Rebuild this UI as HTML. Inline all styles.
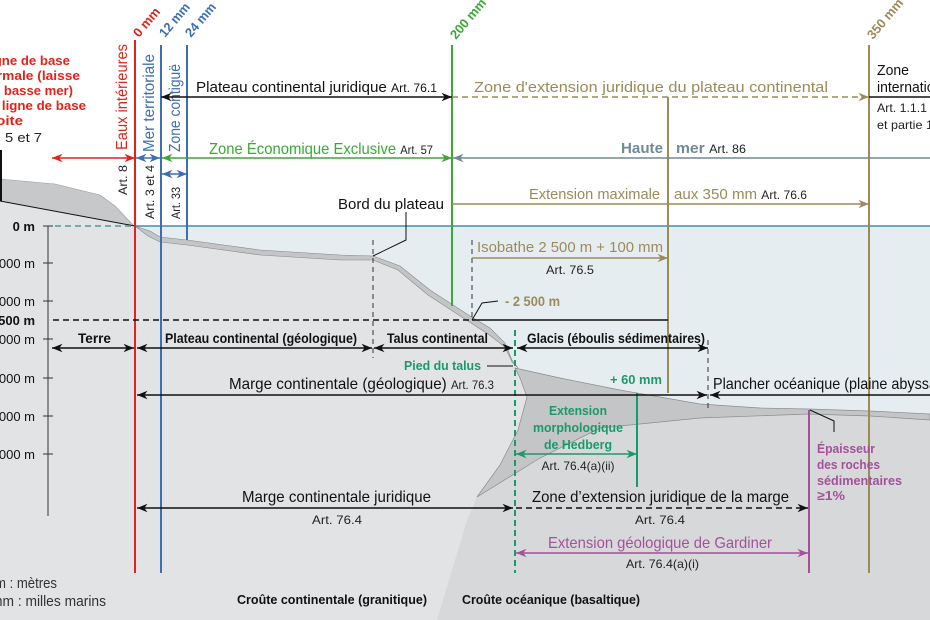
<!DOCTYPE html>
<html><head><meta charset="utf-8"><style>
html,body{margin:0;padding:0;background:#fff}
svg{display:block}
text{font-family:"Liberation Sans",sans-serif}
.a{font-size:12px}
</style></head><body>
<svg width="930" height="620" viewBox="0 0 930 620" xmlns="http://www.w3.org/2000/svg">
<defs>
<marker id="ak" viewBox="0 0 10 10" refX="10" refY="5" markerWidth="7" markerHeight="7" orient="auto-start-reverse"><path d="M0,1 L10,5 L0,9 L3,5z" fill="#111"/></marker>
<marker id="ar" viewBox="0 0 10 10" refX="10" refY="5" markerWidth="7" markerHeight="7" orient="auto-start-reverse"><path d="M0,1 L10,5 L0,9 L3,5z" fill="#e2231a"/></marker>
<marker id="ab" viewBox="0 0 10 10" refX="10" refY="5" markerWidth="7" markerHeight="7" orient="auto-start-reverse"><path d="M0,1 L10,5 L0,9 L3,5z" fill="#3c6eb4"/></marker>
<marker id="ag" viewBox="0 0 10 10" refX="10" refY="5" markerWidth="7" markerHeight="7" orient="auto-start-reverse"><path d="M0,1 L10,5 L0,9 L3,5z" fill="#3aa935"/></marker>
<marker id="ao" viewBox="0 0 10 10" refX="10" refY="5" markerWidth="7" markerHeight="7" orient="auto-start-reverse"><path d="M0,1 L10,5 L0,9 L3,5z" fill="#9b8b5a"/></marker>
<marker id="ah" viewBox="0 0 10 10" refX="10" refY="5" markerWidth="7" markerHeight="7" orient="auto-start-reverse"><path d="M0,1 L10,5 L0,9 L3,5z" fill="#6f8a96"/></marker>
<marker id="at" viewBox="0 0 10 10" refX="10" refY="5" markerWidth="7" markerHeight="7" orient="auto-start-reverse"><path d="M0,1 L10,5 L0,9 L3,5z" fill="#1a9a6a"/></marker>
<marker id="ap" viewBox="0 0 10 10" refX="10" refY="5" markerWidth="7" markerHeight="7" orient="auto-start-reverse"><path d="M0,1 L10,5 L0,9 L3,5z" fill="#a4519a"/></marker>
</defs>

<rect x="135" y="226" width="795" height="394" fill="#e6edf1"/>
<polygon points="0,201 135,226 135,620 0,620" fill="#e2e3e5"/>
<polygon points="0,179 55,184 100,195 115,206 133,225 135,226 0,201" fill="#c6c8ca" stroke="#999" stroke-width="0.6"/>
<line x1="0" y1="201" x2="135" y2="226" stroke="#111" stroke-width="1"/>
<line x1="1" y1="150" x2="1" y2="201" stroke="#111" stroke-width="2"/>
<polygon points="135,226 160,237 187,240 260,250 340,255 373,256 400,268 430,292 470,318 490,330 505,345 512,362 520,378 527,397 518,430 500,465 477,497 467,520 455,560 437,620 135,620" fill="#e2e3e5"/>
<polygon points="515,368 560,378 620,390 700,404 760,408 809,409 870,411 930,414 930,620 437,620 455,560 467,520 477,497 500,465 518,430 527,397 520,378" fill="#d7d8da"/>
<polygon points="135,226 150,231 160,237 187,240 260,250 340,255 373,256 400,266 430,290 470,316 490,328 505,343 512,360 518,368 512,362 505,347 488,334 468,321 428,295 398,270 373,260 340,260 260,255 187,245 160,242 148,236" fill="#c3c5c7" stroke="#888" stroke-width="0.6"/>
<polygon points="515,368 560,378 620,390 700,404 760,408 809,409 870,411 930,414 930,420 870,416 809,414 700,418 600,428 540,458 477,497 500,465 518,430 527,397 520,378" fill="#c3c5c7" stroke="#8a8c8e" stroke-width="0.7"/>

<line x1="135" y1="226" x2="930" y2="226" stroke="#4a8ab0" stroke-width="1.5"/>
<line x1="55" y1="226" x2="135" y2="226" stroke="#4a9aa0" stroke-width="1.5" stroke-dasharray="6,4"/>

<line x1="48" y1="226" x2="48" y2="516" stroke="#333" stroke-width="1"/>
<g stroke="#333"><line x1="43" y1="226" x2="53" y2="226"/><line x1="43" y1="263" x2="53" y2="263"/><line x1="43" y1="301" x2="53" y2="301"/><line x1="43" y1="339" x2="53" y2="339"/><line x1="43" y1="378" x2="53" y2="378"/><line x1="43" y1="416" x2="53" y2="416"/><line x1="43" y1="454" x2="53" y2="454"/></g>
<g font-size="13" text-anchor="end" fill="#111">
<text x="35" y="231" font-weight="bold">0 m</text>
<text x="35" y="268">1 000 m</text>
<text x="35" y="306">2 000 m</text>
<text x="35" y="325" font-weight="bold">2 500 m</text>
<text x="35" y="344">3 000 m</text>
<text x="35" y="383">4 000 m</text>
<text x="35" y="421">5 000 m</text>
<text x="35" y="459">6 000 m</text>
</g>

<line x1="135" y1="40" x2="135" y2="573" stroke="#e2231a" stroke-width="2"/>
<line x1="161" y1="45" x2="161" y2="573" stroke="#3c6eb4" stroke-width="2"/>
<line x1="187" y1="45" x2="187" y2="240" stroke="#3c6eb4" stroke-width="2"/>
<line x1="452" y1="45" x2="452" y2="306" stroke="#3aa935" stroke-width="2"/>
<line x1="668" y1="97" x2="668" y2="393" stroke="#9b8b5a" stroke-width="2"/>
<line x1="869" y1="45" x2="869" y2="573" stroke="#9b8b5a" stroke-width="2"/>
<line x1="809" y1="410" x2="809" y2="573" stroke="#a4519a" stroke-width="2"/>
<line x1="637" y1="393" x2="637" y2="487" stroke="#1a9a6a" stroke-width="2"/>
<line x1="515" y1="330" x2="515" y2="573" stroke="#1a9a6a" stroke-width="2" stroke-dasharray="6,4"/>
<line x1="373" y1="240" x2="373" y2="358" stroke="#333" stroke-width="1" stroke-dasharray="5,4"/>
<line x1="472" y1="240" x2="472" y2="320" stroke="#333" stroke-width="1" stroke-dasharray="5,4"/>
<line x1="708" y1="340" x2="708" y2="410" stroke="#333" stroke-width="1" stroke-dasharray="5,4"/>

<g font-weight="bold" font-size="13">
<text transform="translate(139,38) rotate(-50)" fill="#e2231a" textLength="34" lengthAdjust="spacingAndGlyphs">0 mm</text>
<text transform="translate(165,38) rotate(-50)" fill="#3c6eb4" textLength="40" lengthAdjust="spacingAndGlyphs">12 mm</text>
<text transform="translate(191,38) rotate(-50)" fill="#3c6eb4" textLength="40" lengthAdjust="spacingAndGlyphs">24 mm</text>
<text transform="translate(456,40) rotate(-50)" fill="#3aa935" textLength="48" lengthAdjust="spacingAndGlyphs">200 mm</text>
<text transform="translate(873,40) rotate(-50)" fill="#9b8b5a" textLength="48" lengthAdjust="spacingAndGlyphs">350 mm</text>
</g>
<g font-size="16">
<text transform="translate(127,150) rotate(-90)" fill="#e2231a" textLength="106" lengthAdjust="spacingAndGlyphs">Eaux intérieures</text>
<text transform="translate(154,152) rotate(-90)" fill="#3c6eb4" textLength="98" lengthAdjust="spacingAndGlyphs">Mer territoriale</text>
<text transform="translate(180,152) rotate(-90)" fill="#3c6eb4" textLength="88" lengthAdjust="spacingAndGlyphs">Zone contiguë</text>
</g>
<g font-size="12" fill="#222">
<text transform="translate(127,195) rotate(-90)" textLength="30" lengthAdjust="spacingAndGlyphs">Art. 8</text>
<text transform="translate(154,219) rotate(-90)" textLength="54" lengthAdjust="spacingAndGlyphs">Art. 3 et 4</text>
<text transform="translate(180,219) rotate(-90)" textLength="32" lengthAdjust="spacingAndGlyphs">Art. 33</text>
</g>

<g font-weight="bold" font-size="13" fill="#e2231a" text-anchor="end">
<text x="70" y="65" textLength="88" lengthAdjust="spacingAndGlyphs">Ligne de base</text>
<text x="80" y="80" textLength="100" lengthAdjust="spacingAndGlyphs">normale (laisse</text>
<text x="73" y="95" textLength="88" lengthAdjust="spacingAndGlyphs">de basse mer)</text>
<text x="86" y="110" textLength="104" lengthAdjust="spacingAndGlyphs">ou ligne de base</text>
<text x="23" y="125" textLength="42" lengthAdjust="spacingAndGlyphs">droite</text>
</g>
<text x="42" y="142" font-size="13" fill="#222" text-anchor="end" textLength="64" lengthAdjust="spacingAndGlyphs">Art. 5 et 7</text>

<line x1="161" y1="97" x2="452" y2="97" stroke="#111" stroke-width="1.5" marker-start="url(#ak)" marker-end="url(#ak)"/>
<text x="196" y="92" font-size="15" fill="#111" textLength="241" lengthAdjust="spacingAndGlyphs">Plateau continental juridique <tspan class="a">Art. 76.1</tspan></text>
<line x1="452" y1="97" x2="869" y2="97" stroke="#9b8b5a" stroke-width="1.5" stroke-dasharray="6,4" marker-end="url(#ao)"/>
<text x="474" y="92" font-size="15" fill="#9b8b5a" textLength="354" lengthAdjust="spacingAndGlyphs">Zone d'extension juridique du plateau continental</text>
<line x1="869" y1="97" x2="930" y2="97" stroke="#111" stroke-width="1.5"/>
<text x="877" y="75" font-size="15" fill="#111" textLength="32" lengthAdjust="spacingAndGlyphs">Zone</text>
<text x="877" y="92" font-size="15" fill="#111" textLength="84" lengthAdjust="spacingAndGlyphs">internationale</text>
<text x="877" y="112" class="a" fill="#222" textLength="50" lengthAdjust="spacingAndGlyphs">Art. 1.1.1</text>
<text x="877" y="129" class="a" fill="#222" textLength="62" lengthAdjust="spacingAndGlyphs">et partie 11</text>

<line x1="52" y1="158" x2="135" y2="158" stroke="#e2231a" stroke-width="1.5" marker-start="url(#ar)" marker-end="url(#ar)"/>
<line x1="136" y1="158" x2="160" y2="158" stroke="#3c6eb4" stroke-width="1.5" marker-start="url(#ab)" marker-end="url(#ab)"/>
<line x1="162" y1="158" x2="452" y2="158" stroke="#3aa935" stroke-width="1.5" marker-start="url(#ag)" marker-end="url(#ag)"/>
<text x="209" y="154" font-size="16" fill="#3aa935" textLength="224" lengthAdjust="spacingAndGlyphs">Zone Économique Exclusive <tspan class="a" fill="#222">Art. 57</tspan></text>
<line x1="453" y1="158" x2="930" y2="158" stroke="#6f8a96" stroke-width="1.5" marker-start="url(#ah)"/>
<text x="621" y="153" font-size="15" font-weight="bold" fill="#6f8a96" textLength="42" lengthAdjust="spacingAndGlyphs">Haute</text>
<text x="676" y="153" font-size="15" font-weight="bold" fill="#6f8a96" textLength="70" lengthAdjust="spacingAndGlyphs">mer <tspan class="a" font-weight="normal" fill="#222">Art. 86</tspan></text>
<line x1="162" y1="174" x2="187" y2="174" stroke="#3c6eb4" stroke-width="1.5" marker-start="url(#ab)" marker-end="url(#ab)"/>

<line x1="452" y1="204" x2="869" y2="204" stroke="#9b8b5a" stroke-width="1.5" marker-end="url(#ao)"/>
<text x="529" y="199" font-size="15" fill="#9b8b5a" textLength="131" lengthAdjust="spacingAndGlyphs">Extension maximale</text>
<text x="674" y="199" font-size="15" fill="#9b8b5a" textLength="133" lengthAdjust="spacingAndGlyphs">aux 350 mm <tspan class="a" fill="#222">Art. 76.6</tspan></text>
<text x="338" y="209" font-size="15" fill="#111" textLength="106" lengthAdjust="spacingAndGlyphs">Bord du plateau</text>
<polyline points="406,212 406,240 373,256" fill="none" stroke="#111" stroke-width="1"/>

<line x1="472" y1="258" x2="668" y2="258" stroke="#9b8b5a" stroke-width="1.5" marker-end="url(#ao)"/>
<text x="477" y="252" font-size="15" fill="#9b8b5a" textLength="186" lengthAdjust="spacingAndGlyphs">Isobathe 2 500 m + 100 mm</text>
<text x="546" y="274" class="a" fill="#222" textLength="48" lengthAdjust="spacingAndGlyphs">Art. 76.5</text>
<text x="505" y="306" font-size="14" font-weight="bold" fill="#9b8b5a" textLength="55" lengthAdjust="spacingAndGlyphs">- 2 500 m</text>
<polyline points="472,320 482,303 498,301" fill="none" stroke="#111" stroke-width="1"/>
<line x1="53" y1="320" x2="472" y2="320" stroke="#111" stroke-width="1.5" stroke-dasharray="6,4"/>
<line x1="472" y1="320" x2="668" y2="320" stroke="#111" stroke-width="1.5"/>

<g stroke="#111" stroke-width="1.5">
<line x1="52" y1="348" x2="134" y2="348" marker-start="url(#ak)" marker-end="url(#ak)"/>
<line x1="137" y1="348" x2="372" y2="348" marker-start="url(#ak)" marker-end="url(#ak)"/>
<line x1="374" y1="348" x2="513" y2="348" marker-start="url(#ak)" marker-end="url(#ak)"/>
<line x1="517" y1="348" x2="708" y2="348" marker-start="url(#ak)" marker-end="url(#ak)"/>
</g>
<g font-size="14" font-weight="bold" fill="#111">
<text x="78" y="343" textLength="33" lengthAdjust="spacingAndGlyphs">Terre</text>
<text x="165" y="343" textLength="192" lengthAdjust="spacingAndGlyphs">Plateau continental (géologique)</text>
<text x="387" y="343" textLength="101" lengthAdjust="spacingAndGlyphs">Talus continental</text>
<text x="527" y="343" textLength="178" lengthAdjust="spacingAndGlyphs">Glacis (éboulis sédimentaires)</text>
</g>
<text x="404" y="370" font-size="13" font-weight="bold" fill="#1a9a6a" textLength="77" lengthAdjust="spacingAndGlyphs">Pied du talus</text>
<line x1="487" y1="366" x2="513" y2="366" stroke="#111" stroke-width="1"/>

<line x1="137" y1="395" x2="707" y2="395" stroke="#111" stroke-width="1.5" marker-start="url(#ak)" marker-end="url(#ak)"/>
<text x="229" y="389" font-size="16" fill="#111" textLength="265" lengthAdjust="spacingAndGlyphs">Marge continentale (géologique) <tspan class="a" fill="#222">Art. 76.3</tspan></text>
<line x1="710" y1="395" x2="930" y2="395" stroke="#111" stroke-width="1.5" marker-start="url(#ak)"/>
<text x="713" y="389" font-size="16" fill="#111" textLength="240" lengthAdjust="spacingAndGlyphs">Plancher océanique (plaine abyssale)</text>
<text x="610" y="384" font-size="13" font-weight="bold" fill="#1a9a6a" textLength="52" lengthAdjust="spacingAndGlyphs">+ 60 mm</text>

<g font-size="13" font-weight="bold" fill="#1a9a6a" text-anchor="middle">
<text x="578" y="415" textLength="58" lengthAdjust="spacingAndGlyphs">Extension</text>
<text x="578" y="432" textLength="90" lengthAdjust="spacingAndGlyphs">morphologique</text>
<text x="578" y="449" textLength="68" lengthAdjust="spacingAndGlyphs">de Hedberg</text>
</g>
<line x1="516" y1="454" x2="637" y2="454" stroke="#1a9a6a" stroke-width="1.5" marker-start="url(#at)" marker-end="url(#at)"/>
<text x="578" y="470" class="a" fill="#222" text-anchor="middle" textLength="73" lengthAdjust="spacingAndGlyphs">Art. 76.4(a)(ii)</text>

<polyline points="810,410 834,421 834,432" fill="none" stroke="#111" stroke-width="1"/>
<g font-size="13" font-weight="bold" fill="#a4519a">
<text x="817" y="453" textLength="58" lengthAdjust="spacingAndGlyphs">Épaisseur</text>
<text x="817" y="469" textLength="63" lengthAdjust="spacingAndGlyphs">des roches</text>
<text x="817" y="485" textLength="85" lengthAdjust="spacingAndGlyphs">sédimentaires</text>
<text x="817" y="500" textLength="28" lengthAdjust="spacingAndGlyphs">≥1%</text>
</g>

<line x1="137" y1="508" x2="513" y2="508" stroke="#111" stroke-width="1.5" marker-start="url(#ak)" marker-end="url(#ak)"/>
<text x="242" y="502" font-size="16" fill="#111" textLength="189" lengthAdjust="spacingAndGlyphs">Marge continentale juridique</text>
<text x="312" y="524" class="a" fill="#222" textLength="50" lengthAdjust="spacingAndGlyphs">Art. 76.4</text>
<line x1="516" y1="508" x2="808" y2="508" stroke="#111" stroke-width="1.5" stroke-dasharray="6,4" marker-end="url(#ak)"/>
<text x="532" y="502" font-size="16" fill="#111" textLength="257" lengthAdjust="spacingAndGlyphs">Zone d’extension juridique de la marge</text>
<text x="635" y="524" class="a" fill="#222" textLength="50" lengthAdjust="spacingAndGlyphs">Art. 76.4</text>

<line x1="516" y1="553" x2="808" y2="553" stroke="#a4519a" stroke-width="1.5" marker-start="url(#ap)" marker-end="url(#ap)"/>
<text x="548" y="548" font-size="16" fill="#a4519a" textLength="224" lengthAdjust="spacingAndGlyphs">Extension géologique de Gardiner</text>
<text x="626" y="568" class="a" fill="#222" textLength="73" lengthAdjust="spacingAndGlyphs">Art. 76.4(a)(i)</text>

<text x="237" y="604" font-size="13" font-weight="bold" fill="#111" textLength="190" lengthAdjust="spacingAndGlyphs">Croûte continentale (granitique)</text>
<text x="462" y="604" font-size="13" font-weight="bold" fill="#111" textLength="178" lengthAdjust="spacingAndGlyphs">Croûte océanique (basaltique)</text>
<text x="-5" y="588" font-size="15" fill="#333" textLength="62" lengthAdjust="spacingAndGlyphs">m : mètres</text>
<text x="-9" y="606" font-size="15" fill="#333" textLength="115" lengthAdjust="spacingAndGlyphs">mm : milles marins</text>
</svg>
</body></html>
